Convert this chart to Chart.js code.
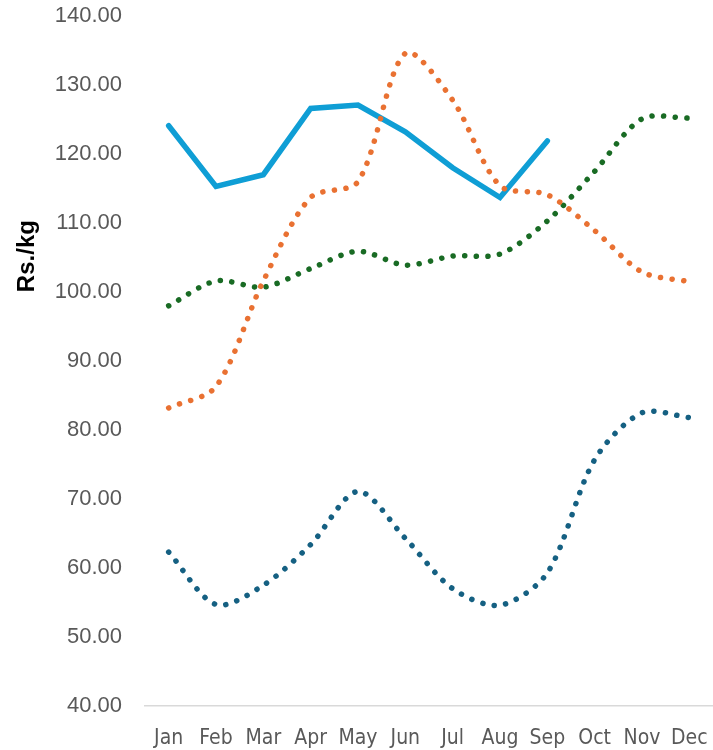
<!DOCTYPE html>
<html lang="en">
<head>
  <meta charset="UTF-8">
  <title>Rs./kg by month</title>
  <script src="https://cdn.jsdelivr.net/npm/chart.js"></script>
  <style>
    body { margin: 0; background: #fff; }
    #wrap { width: 713px; height: 750px; position: relative; }
  </style>
</head>
<body>
  <div id="wrap"><canvas id="priceChart"></canvas></div>

  <script>
    const months = ['Jan', 'Feb', 'Mar', 'Apr', 'May', 'Jun', 'Jul', 'Aug', 'Sep', 'Oct', 'Nov', 'Dec'];

    const seriesDarkBlue = [62.3, 54.7, 57.5, 63.4, 71.1, 64.3, 57.0, 54.6, 59.3, 75.7, 82.5, 81.8];
    const seriesOrange = [83.2, 86.3, 101.6, 113.7, 116.0, 134.6, 127.8, 115.4, 114.1, 108.9, 102.9, 101.5];
    const seriesGreen = [98.0, 101.6, 100.7, 103.4, 105.9, 103.9, 105.2, 105.5, 110.3, 117.5, 125.1, 125.2];
    const seriesLightBlue = [124.1, 115.3, 117.0, 126.6, 127.1, 123.2, 118.0, 113.7, 121.9, null, null, null];

    const yTitle = 'Rs./kg';
    const tickColor = '#595959';

    // dotted, smoothed line like the Excel "round dot" style
    function dotted(label, values, color) {
      return {
        label: label,
        data: values,
        borderColor: color,
        borderWidth: 5.5,
        borderDash: [0.1, 11.5],
        borderCapStyle: 'round',
        tension: 0.3,
        pointRadius: 0,
        fill: false
      };
    }

    // y axis title sits a bit above the middle, so draw it by hand
    const yTitlePlugin = {
      id: 'yTitle',
      afterDraw(chart) {
        const ctx = chart.ctx;
        const y = chart.scales.y.getPixelForValue(105.2);
        ctx.save();
        ctx.translate(34, y);
        ctx.rotate(-Math.PI / 2);
        ctx.font = 'bold 24px "Liberation Sans", Arial, sans-serif';
        ctx.fillStyle = '#000';
        ctx.textAlign = 'center';
        ctx.textBaseline = 'alphabetic';
        ctx.fillText(yTitle, 0, 0);
        ctx.restore();
      }
    };

    const ctx = document.getElementById('priceChart').getContext('2d');
    new Chart(ctx, {
      type: 'line',
      data: {
        labels: months,
        datasets: [
          dotted('Series 1', seriesDarkBlue, '#156082'),
          dotted('Series 2', seriesOrange, '#E97132'),
          dotted('Series 3', seriesGreen, '#196B24'),
          {
            label: 'Series 4',
            data: seriesLightBlue,
            borderColor: '#0F9ED5',
            borderWidth: 5.5,
            borderCapStyle: 'round',
            tension: 0,
            pointRadius: 0,
            fill: false,
            spanGaps: false,
            order: 5
          }
        ]
      },
      options: {
        responsive: true,
        maintainAspectRatio: false,
        animation: false,
        layout: { padding: { top: 16, right: 0, bottom: 0, left: 0 } },
        plugins: {
          legend: { display: false },
          tooltip: { enabled: false }
        },
        scales: {
          x: {
            offset: true,
            grid: { display: false, drawTicks: false },
            border: { display: true, color: '#d9d9d9', width: 1.5 },
            ticks: {
              color: tickColor,
              padding: 20,
              maxRotation: 0,
              autoSkip: false,
              font: { family: '"Liberation Sans Narrow", "DejaVu Sans Condensed", "Liberation Sans", sans-serif', size: 21 }
            },
            afterFit: s => { s.height = 44; s.paddingLeft = 0; s.paddingRight = 0; }
          },
          y: {
            min: 40,
            max: 140,
            grid: { display: false, drawTicks: false },
            border: { display: false },
            ticks: {
              stepSize: 10,
              color: tickColor,
              padding: 23,
              font: { family: '"Liberation Sans", Arial, sans-serif', size: 22 },
              callback: v => v.toFixed(2)
            },
            afterFit: s => { s.width = 145; s.paddingTop = 0; s.paddingBottom = 0; }
          }
        }
      },
      plugins: [yTitlePlugin]
    });
  </script>
</body>
</html>
